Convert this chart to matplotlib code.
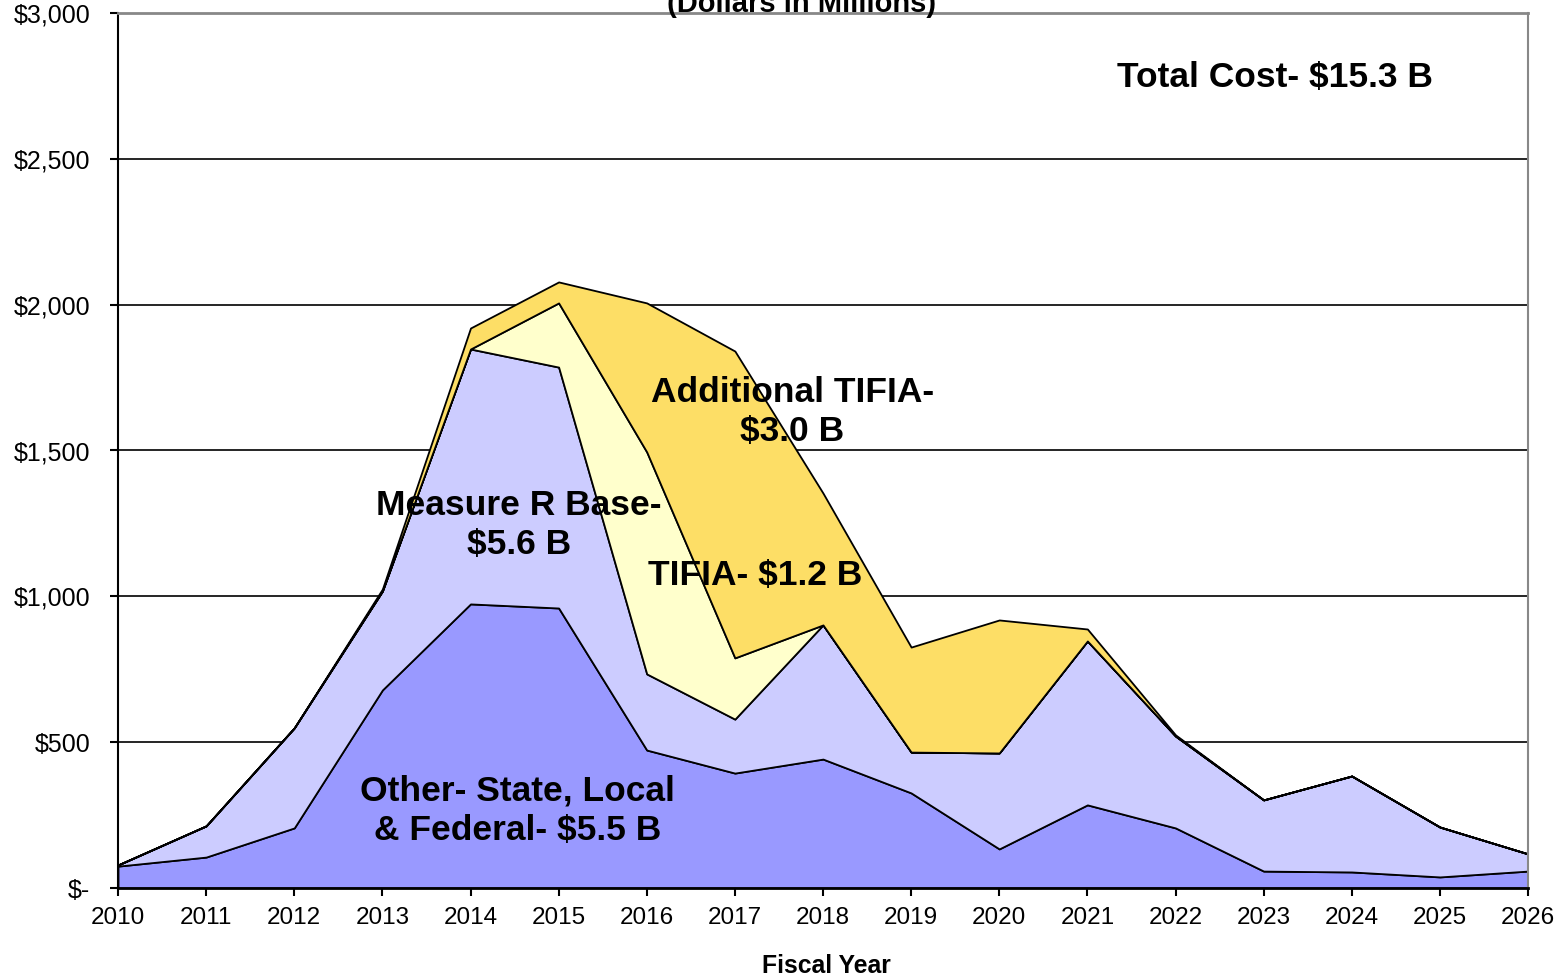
import numpy as np
import matplotlib
matplotlib.use("Agg")
import matplotlib.pyplot as plt
from matplotlib.ticker import FixedLocator

plt.rcParams["font.family"] = ["Liberation Sans", "DejaVu Sans"]

# fiscal years and funding layers, dollars in millions
years = list(range(2010, 2027))
other = [75, 106, 206, 679, 974, 960, 473, 394, 442, 326, 134, 285, 206, 58, 55, 38, 58]
measure_r = [4, 107, 343, 339, 874, 826, 261, 185, 460, 140, 329, 562, 315, 244, 329, 171, 59]
tifia = [0, 0, 0, 0, 0, 220, 761, 210, 0, 0, 0, 0, 0, 0, 0, 0, 0]
add_tifia = [0, 0, 0, 7, 72, 72, 511, 1052, 452, 360, 456, 41, 4, 0, 0, 0, 0]

colors = ["#9999FF", "#CCCCFF", "#FFFFCC", "#FDDE66"]
ytick_vals = [0, 500, 1000, 1500, 2000, 2500, 3000]
ytick_labels = ["$-", "$500", "$1,000", "$1,500", "$2,000", "$2,500", "$3,000"]

fig = plt.figure(figsize=(15.57, 9.8), dpi=100)
ax = fig.add_axes([118 / 1557, 1 - 888 / 980, (1528 - 118) / 1557, (888 - 13) / 980])

ax.stackplot(years, other, measure_r, tifia, add_tifia, colors=colors,
             edgecolor="black", linewidth=1.3, zorder=2)

ax.set_xlim(2010, 2026)
ax.set_ylim(0, 3000)
ax.xaxis.set_major_locator(FixedLocator(years))
ax.set_xticklabels([str(y) for y in years])
ax.set_yticks(ytick_vals)
ax.set_yticklabels(ytick_labels)

# gridlines drawn under the areas
for v in ytick_vals[1:-1]:
    ax.axhline(v, color="black", linewidth=1.2, zorder=1)

ax.spines["top"].set_color("#888888")
ax.spines["right"].set_color("#888888")
ax.spines["top"].set_linewidth(2)
ax.spines["right"].set_linewidth(1.5)
ax.spines["left"].set_linewidth(1.5)
ax.spines["bottom"].set_linewidth(2)

ax.tick_params(axis="y", direction="out", length=6, width=1.5, pad=14, labelsize=18)
ax.tick_params(axis="x", direction="out", length=6, width=1.5, pad=8, labelsize=17.5)

bold = dict(fontsize=25.5, fontweight="bold", ha="center", va="center", zorder=5)
ax.text(2023.13, 2780, "Total Cost- $15.3 B", **bold)
ax.text(2014.55, 1245, "Measure R Base-\n$5.6 B", linespacing=1.25, **bold)
ax.text(2017.65, 1632, "Additional TIFIA-\n$3.0 B", linespacing=1.25, **bold)
ax.text(2017.23, 1070, "TIFIA- $1.2 B", **bold)
ax.text(2014.53, 264, "Other- State, Local\n& Federal- $5.5 B", linespacing=1.25, **bold)

# title and axis label are cut off at the figure edges in the reference
fig.text(802 / 1557, 1 - 4 / 980, "(Dollars in Millions)", fontsize=21,
         fontweight="bold", ha="center", va="center")
fig.text(826 / 1557, 1 - 966 / 980, "Fiscal Year", fontsize=17.8,
         fontweight="bold", ha="center", va="center")

fig.savefig("out.png", dpi=100)
